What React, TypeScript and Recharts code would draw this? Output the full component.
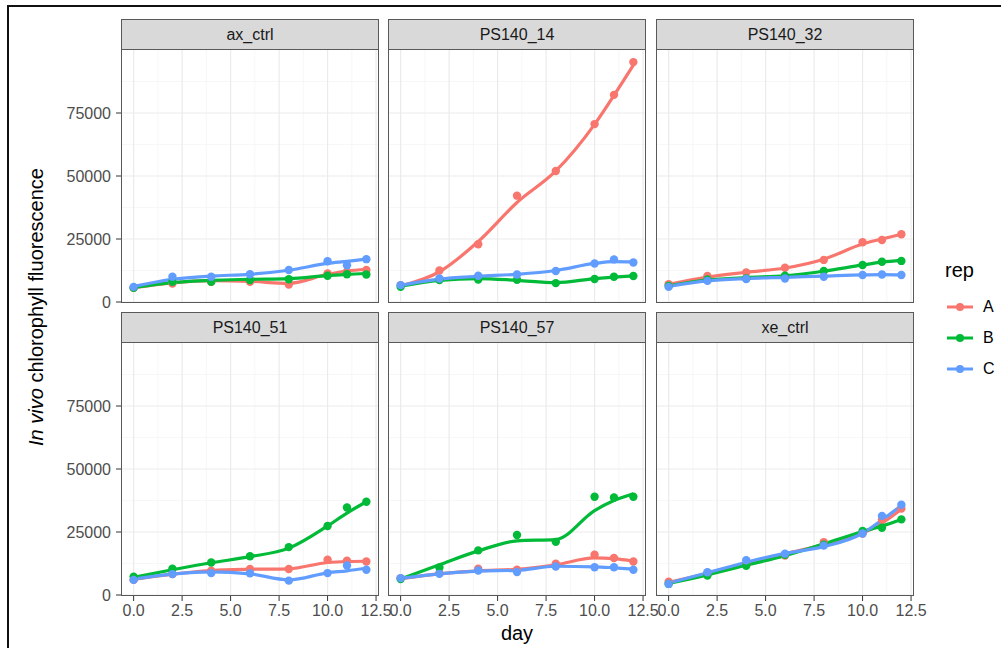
import { ComposedChart, Line, XAxis, YAxis, CartesianGrid } from 'recharts'

const days = [0, 2, 4, 6, 8, 10, 11, 12]
const panelNames = ['ax_ctrl', 'PS140_14', 'PS140_32', 'PS140_51', 'PS140_57', 'xe_ctrl']
const reps = ['A', 'B', 'C']
const repColors = ['#F8766D', '#00BA38', '#619CFF']
const xTicks = [0, 2.5, 5, 7.5, 10, 12.5]
const xMinor = [1.25, 3.75, 6.25, 8.75, 11.25]
const yTicks = [0, 25000, 50000, 75000]
const yMinor = [12500, 37500, 62500, 87500]

// observed points, one row per rep (A, B, C)
const axCtrlObs = [
  [5600, 7300, 8000, 8000, 6900, 11300, 12000, 12700],
  [5600, 8000, 8000, 8700, 9000, 10400, 11000, 10900],
  [6000, 10000, 10000, 11000, 12700, 16200, 14600, 17000],
]
const ps14Obs = [
  [6700, 12500, 22900, 42200, 52000, 70600, 82200, 95200],
  [6000, 8700, 8900, 8800, 7500, 9100, 10000, 10300],
  [6700, 9300, 10400, 10900, 12300, 15300, 16900, 15700],
]
const ps32Obs = [
  [7100, 10300, 11700, 13600, 16700, 23700, 24600, 26900],
  [6400, 8900, 9300, 10400, 12300, 14700, 16000, 16300],
  [6000, 8400, 9100, 9300, 10000, 10700, 10900, 10700],
]
const ps51Obs = [
  [6000, 8300, 9600, 10300, 10300, 14000, 13600, 13300],
  [7300, 10400, 12900, 15400, 19000, 27400, 34700, 37000],
  [6000, 8300, 8700, 8600, 5700, 8700, 11700, 10000],
]
const ps57Obs = [
  [6700, 8700, 10400, 10000, 12400, 16000, 14700, 13300],
  [6300, 10900, 17700, 23800, 21100, 39000, 38700, 39000],
  [6700, 8400, 9700, 9100, 11300, 11000, 11000, 10000],
]
const xeCtrlObs = [
  [5300, 8700, 12000, 15700, 21000, 24400, 30000, 34300],
  [4400, 7700, 11600, 16000, 20000, 25400, 26700, 30000],
  [4400, 9000, 13800, 16400, 19600, 24400, 31400, 35800],
]

// smoothed curves at the same days
const axCtrlFit = [
  [5700, 7600, 8500, 8200, 7400, 11000, 12300, 13000],
  [5800, 7700, 8600, 9000, 9300, 10500, 11000, 11300],
  [6200, 9000, 10300, 11000, 12600, 15300, 16100, 17000],
]
const ps14Fit = [
  [6300, 12000, 24000, 39500, 52000, 70500, 82000, 94000],
  [6300, 8600, 9300, 8600, 7700, 9300, 9900, 10400],
  [6600, 9100, 10200, 11000, 12500, 15300, 16000, 15900],
]
const ps32Fit = [
  [7000, 9900, 11800, 13500, 17000, 23000, 25000, 26900],
  [6500, 8700, 9700, 10400, 12200, 14700, 15800, 16500],
  [6200, 8400, 9300, 9800, 10300, 10800, 10900, 10800],
]
const ps51Fit = [
  [6200, 8300, 9700, 10200, 10400, 12900, 13300, 13400],
  [7000, 10000, 12800, 15200, 18600, 27400, 32500, 37000],
  [6300, 8300, 9200, 8400, 6000, 8800, 9600, 10600],
]
const ps57Fit = [
  [6500, 8400, 9600, 10200, 12000, 14700, 14400, 13400],
  [6300, 12000, 17500, 21500, 22000, 33500, 37500, 40200],
  [6600, 8400, 9500, 9800, 11400, 11200, 10800, 10300],
]
const xeCtrlFit = [
  [5000, 8500, 12200, 16300, 20000, 24500, 28500, 34000],
  [4600, 8000, 11800, 15600, 20300, 25200, 27400, 30000],
  [4700, 8800, 13000, 16500, 19200, 24500, 29800, 35500],
]

const panelObs = [axCtrlObs, ps14Obs, ps32Obs, ps51Obs, ps57Obs, xeCtrlObs]
const panelFit = [axCtrlFit, ps14Fit, ps32Fit, ps51Fit, ps57Fit, xeCtrlFit]

const colLeft = [122, 389, 657]
const rowTop = [50, 343]
const plotW = 256
const plotH = 252
const stripH = 31
const yAxisW = 70
const xAxisH = 40
const frame = '#595959'

const scaleOf = (axis: any, v: number) => {
  const s = axis && axis.scale
  if (!s) return NaN
  return typeof s === 'function' ? s(v) : s.map(v)
}
const gridGen = (vals: number[], key: 'xAxis' | 'yAxis') => (props: any) =>
  vals.map((v) => scaleOf(props[key], v)).filter((p) => Number.isFinite(p))

function Panel({ idx }: { idx: number }) {
  const col = idx % 3
  const row = Math.floor(idx / 3)
  const showY = col === 0
  const showX = row === 1
  const obs = panelObs[idx]
  const fit = panelFit[idx]
  const data = days.map((d, i) => ({
    day: d,
    A: obs[0][i], B: obs[1][i], C: obs[2][i],
    fA: fit[0][i], fB: fit[1][i], fC: fit[2][i],
  }))
  const w = plotW + (showY ? yAxisW : 0)
  const h = plotH + (showX ? xAxisH : 0)
  return (
    <>
      <div
        style={{
          position: 'absolute', left: colLeft[col] - 1, top: rowTop[row] - stripH, width: plotW + 2, height: stripH,
          background: '#D9D9D9', border: `1px solid ${frame}`, boxSizing: 'border-box',
          display: 'flex', alignItems: 'center', justifyContent: 'center', fontSize: 16, color: '#1A1A1A',
        }}
      >
        {panelNames[idx]}
      </div>
      <div style={{ position: 'absolute', left: colLeft[col] - (showY ? yAxisW : 0), top: rowTop[row] }}>
        <ComposedChart width={w} height={h} data={data} margin={{ top: 0, right: 0, bottom: 0, left: 0 }}>
          <CartesianGrid
            stroke="#F3F3F3" strokeWidth={0.7}
            horizontalCoordinatesGenerator={gridGen(yMinor, 'yAxis')}
            verticalCoordinatesGenerator={gridGen(xMinor, 'xAxis')}
          />
          <CartesianGrid
            stroke="#EBEBEB" strokeWidth={1.2}
            horizontalCoordinatesGenerator={gridGen(yTicks, 'yAxis')}
            verticalCoordinatesGenerator={gridGen(xTicks, 'xAxis')}
          />
          <XAxis
            type="number" dataKey="day" domain={[-0.6, 12.6]} ticks={xTicks} interval={0} allowDataOverflow
            hide={!showX} height={xAxisH} axisLine={false} tickLine={{ stroke: '#333' }} tickSize={6} tickMargin={4}
            tick={{ fill: '#4D4D4D', fontSize: 16 }} tickFormatter={(v: number) => v.toFixed(1)}
          />
          <YAxis
            type="number" domain={[0, 100000]} ticks={yTicks} interval={0} allowDataOverflow
            hide={!showY} width={yAxisW} axisLine={false} tickLine={{ stroke: '#333' }} tickSize={6} tickMargin={5}
            tick={{ fill: '#4D4D4D', fontSize: 16 }}
          />
          {reps.map((r, i) => (
            <Line
              key={'p' + r} dataKey={r} stroke="none" strokeWidth={0} isAnimationActive={false} activeDot={false}
              dot={{ r: 4.2, fill: repColors[i], stroke: 'none', fillOpacity: 1 }}
            />
          ))}
          {reps.map((r, i) => (
            <Line
              key={'f' + r} dataKey={'f' + r} type="monotone" stroke={repColors[i]} strokeWidth={3.2}
              dot={false} activeDot={false} isAnimationActive={false}
            />
          ))}
        </ComposedChart>
      </div>
      <div
        style={{
          position: 'absolute', left: colLeft[col] - 1, top: rowTop[row] - 1, width: plotW + 2, height: plotH + 2,
          border: `1px solid ${frame}`, boxSizing: 'border-box', pointerEvents: 'none',
        }}
      />
    </>
  )
}

export default function App() {
  return (
    <div
      style={{
        position: 'relative', width: 1001, height: 648, background: '#fff', overflow: 'hidden',
        fontFamily: '"Liberation Sans", Arial, sans-serif',
      }}
    >
      <style>{'body{margin:0}.recharts-surface{overflow:visible}'}</style>
      <div
        style={{
          position: 'absolute', left: 7, top: 5, width: 1010, height: 660,
          borderTop: '2px solid #111', borderLeft: '2px solid #111',
        }}
      />
      {panelNames.map((_, i) => (
        <Panel key={i} idx={i} />
      ))}
      <div
        style={{
          position: 'absolute', left: 36, top: 307, transform: 'translate(-50%, -50%) rotate(-90deg)',
          whiteSpace: 'nowrap', fontSize: 20, color: '#000',
        }}
      >
        <i>In vivo</i> chlorophyll fluorescence
      </div>
      <div style={{ position: 'absolute', left: 517, top: 633, transform: 'translate(-50%, -50%)', fontSize: 20 }}>
        day
      </div>
      <div style={{ position: 'absolute', left: 945, top: 259, fontSize: 20 }}>rep</div>
      {reps.map((r, i) => (
        <div key={r} style={{ position: 'absolute', left: 945, top: 307 + i * 31 - 12, height: 24, display: 'flex', alignItems: 'center' }}>
          <svg width={30} height={24}>
            <line x1={2} y1={12} x2={28} y2={12} stroke={repColors[i]} strokeWidth={3} />
            <circle cx={15} cy={12} r={4} fill={repColors[i]} />
          </svg>
          <span style={{ marginLeft: 8, fontSize: 16, color: '#000' }}>{r}</span>
        </div>
      ))}
    </div>
  )
}
